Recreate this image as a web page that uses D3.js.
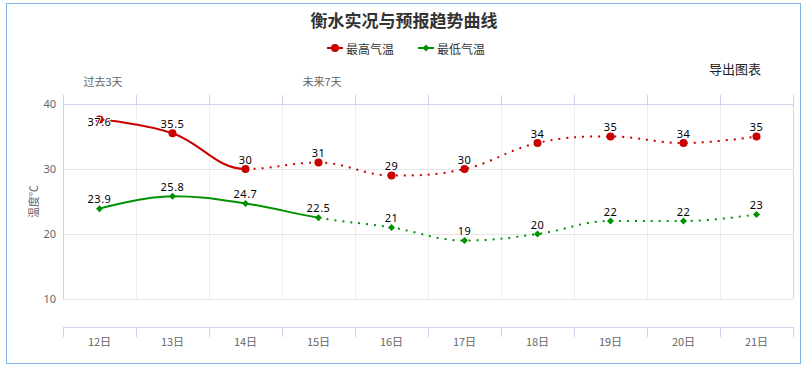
<!DOCTYPE html>
<html>
<head>
<meta charset="utf-8">
<script src="https://cdn.jsdelivr.net/npm/d3@7"></script>
<style>
html,body{margin:0;padding:0;background:#fff;}
svg{display:block;font-family:"Noto Sans CJK SC","Noto Sans",sans-serif;}
</style>
</head>
<body>
<svg id="chart" width="808" height="369"></svg>
<script>
const days = ["12日","13日","14日","15日","16日","17日","18日","19日","20日","21日"];
const highTemps = [37.6, 35.5, 30, 31, 29, 30, 34, 35, 34, 35];
const lowTemps  = [23.9, 25.8, 24.7, 22.5, 21, 19, 20, 22, 22, 23];
const highSolidUntil = 2;   // index where observed (solid) ends
const lowSolidUntil = 3;
const yTicks = [10, 20, 30, 40];
const seriesNames = ["最高气温", "最低气温"];
const titleText = "衡水实况与预报趋势曲线";

const svg = d3.select("#chart");
const W = 808, H = 369;
const plotL = 63, plotR = 793, plotT = 104, plotB = 299;
const red = "#c80000", green = "#009100";

// outer border
svg.append("rect").attr("x", 6.5).attr("y", 3.5).attr("width", 794).attr("height", 360)
  .attr("fill", "#fff").attr("stroke", "#7fb3e6").attr("stroke-width", 1);

const x = d3.scaleBand().domain(days).range([plotL, plotR]).padding(0);
const y = d3.scaleLinear().domain([10, 40]).range([plotB, plotT]);
const cx = d => x(d) + x.bandwidth() / 2;

// vertical grid
const bounds = days.map(d => x(d)).concat([plotR]);
svg.append("g").selectAll("line").data(bounds.slice(1, -1)).join("line")
  .attr("x1", d => d + 0.5).attr("x2", d => d + 0.5)
  .attr("y1", plotT).attr("y2", plotB)
  .attr("stroke", "#eeeeee");

// horizontal grid
svg.append("g").selectAll("line").data(yTicks.filter(t => t < 40)).join("line")
  .attr("x1", plotL).attr("x2", plotR)
  .attr("y1", d => Math.round(y(d)) + 0.5).attr("y2", d => Math.round(y(d)) + 0.5)
  .attr("stroke", "#e6e6e6");

// frame lines (left, right, top axis)
const axisCol = "#ccd6eb";
svg.append("line").attr("x1", plotL + 0.5).attr("x2", plotL + 0.5).attr("y1", 95).attr("y2", plotB).attr("stroke", axisCol);
svg.append("line").attr("x1", plotR + 0.5).attr("x2", plotR + 0.5).attr("y1", 95).attr("y2", plotB).attr("stroke", axisCol);
svg.append("line").attr("x1", plotL).attr("x2", plotR + 1).attr("y1", Math.round(y(40)) + 0.5).attr("y2", Math.round(y(40)) + 0.5).attr("stroke", axisCol);
svg.append("g").selectAll("line").data(bounds).join("line")
  .attr("x1", d => d + 0.5).attr("x2", d => d + 0.5)
  .attr("y1", 95).attr("y2", plotT).attr("stroke", axisCol);

// bottom axis
const axisY = 327;
const xAxis = d3.axisBottom(x).tickSize(0).tickPadding(0);
const gx = svg.append("g").attr("transform", `translate(0,${axisY})`).call(xAxis);
gx.select(".domain").remove();
gx.selectAll("text").attr("y", 15.5).attr("dy", "0.35em")
  .attr("fill", "#666").attr("font-size", "11px")
  .attr("font-family", "\"Noto Sans CJK SC\",sans-serif");
svg.append("line").attr("x1", plotL).attr("x2", plotR + 1).attr("y1", axisY + 0.5).attr("y2", axisY + 0.5).attr("stroke", axisCol);
svg.append("g").selectAll("line").data(bounds).join("line")
  .attr("x1", d => d + 0.5).attr("x2", d => d + 0.5)
  .attr("y1", axisY).attr("y2", axisY + 10).attr("stroke", axisCol);

// y axis labels
const yAxis = d3.axisLeft(y).tickValues(yTicks).tickSize(0).tickPadding(7);
const gy = svg.append("g").attr("transform", `translate(${plotL},0)`).call(yAxis);
gy.select(".domain").remove();
gy.selectAll("text").attr("fill", "#666").attr("font-size", "11px")
  .attr("font-family", "\"Noto Sans\",sans-serif");

// y title
svg.append("text").attr("transform", `translate(33,${(plotT + plotB) / 2}) rotate(-90)`)
  .attr("text-anchor", "middle").attr("dominant-baseline", "central")
  .attr("font-size", "11px").attr("fill", "#666").text("温度℃");

// Highcharts-like spline
function splinePath(pts, from, to) {
  const sm = 1.5, den = sm + 1;
  const ctrl = pts.map((p, i) => {
    if (i === 0 || i === pts.length - 1) return {l: [p[0], p[1]], r: [p[0], p[1]]};
    const [px, py] = p, [lx, ly] = pts[i - 1], [nx, ny] = pts[i + 1];
    let lcx = (sm * px + lx) / den, lcy = (sm * py + ly) / den;
    let rcx = (sm * px + nx) / den, rcy = (sm * py + ny) / den;
    let corr = 0;
    if (rcx !== lcx) corr = ((rcy - lcy) * (rcx - px)) / (rcx - lcx) + py - rcy;
    lcy += corr; rcy += corr;
    if (lcy > ly && lcy > py) { lcy = Math.max(ly, py); rcy = 2 * py - lcy; }
    else if (lcy < ly && lcy < py) { lcy = Math.min(ly, py); rcy = 2 * py - lcy; }
    if (rcy > ny && rcy > py) { rcy = Math.max(ny, py); lcy = 2 * py - rcy; }
    else if (rcy < ny && rcy < py) { rcy = Math.min(ny, py); lcy = 2 * py - rcy; }
    return {l: [lcx, lcy], r: [rcx, rcy]};
  });
  let d = `M${pts[from][0]},${pts[from][1]}`;
  for (let i = from + 1; i <= to; i++) {
    d += `C${ctrl[i - 1].r[0]},${ctrl[i - 1].r[1]} ${ctrl[i].l[0]},${ctrl[i].l[1]} ${pts[i][0]},${pts[i][1]}`;
  }
  return d;
}

function drawSeries(vals, solidUntil, color, marker) {
  const pts = vals.map((v, i) => [cx(days[i]), y(v)]);
  const g = svg.append("g");
  g.append("path").attr("d", splinePath(pts, 0, solidUntil))
    .attr("fill", "none").attr("stroke", color).attr("stroke-width", 2);
  g.append("path").attr("d", splinePath(pts, solidUntil, pts.length - 1))
    .attr("fill", "none").attr("stroke", color).attr("stroke-width", 2)
    .attr("stroke-dasharray", "2,6");
  if (marker === "circle") {
    g.selectAll("circle").data(pts).join("circle")
      .attr("cx", d => d[0]).attr("cy", d => d[1]).attr("r", 4).attr("fill", color);
  } else {
    g.selectAll("path.m").data(pts).join("path").attr("class", "m")
      .attr("d", d => `M${d[0]},${d[1] - 3.5}L${d[0] + 3.5},${d[1]}L${d[0]},${d[1] + 3.5}L${d[0] - 3.5},${d[1]}Z`)
      .attr("fill", color);
  }
  return pts;
}

const hp = drawSeries(highTemps, highSolidUntil, red, "circle");
const lp = drawSeries(lowTemps, lowSolidUntil, green, "diamond");

function labels(pts, vals) {
  svg.append("g").selectAll("text").data(pts).join("text")
    .attr("x", d => d[0]).attr("y", (d, i) => i === 0 && vals === highTemps ? d[1] + 2 : d[1] - 10)
    .attr("text-anchor", "middle").attr("dominant-baseline", "central")
    .attr("font-size", "11px").attr("fill", "#000")
    .attr("font-family", "\"Noto Sans\",sans-serif")
    .attr("stroke", "#fff").attr("stroke-width", 2).attr("paint-order", "stroke")
    .attr("letter-spacing", "0.5px")
    .text((d, i) => vals[i]);
}
labels(hp, highTemps);
labels(lp, lowTemps);

// title
svg.append("text").attr("x", 404).attr("y", 19).attr("text-anchor", "middle")
  .attr("dominant-baseline", "central").attr("font-size", "17px").attr("font-weight", "bold")
  .attr("fill", "#333").text(titleText);

// legend
const legendItems = [
  {name: seriesNames[0], color: red, x: 327, marker: "circle"},
  {name: seriesNames[1], color: green, x: 418, marker: "diamond"}
];
legendItems.forEach(it => {
  const g = svg.append("g");
  g.append("line").attr("x1", it.x).attr("x2", it.x + 16).attr("y1", 48).attr("y2", 48)
    .attr("stroke", it.color).attr("stroke-width", 2);
  if (it.marker === "circle") g.append("circle").attr("cx", it.x + 8).attr("cy", 48).attr("r", 4).attr("fill", it.color);
  else g.append("path").attr("d", `M${it.x + 8},${44.5}L${it.x + 11.5},48L${it.x + 8},51.5L${it.x + 4.5},48Z`).attr("fill", it.color);
  g.append("text").attr("x", it.x + 19).attr("y", 48).attr("dominant-baseline", "central")
    .attr("font-size", "12px").attr("fill", "#333").text(it.name);
});

// annotations
svg.append("text").attr("x", 103).attr("y", 81).attr("text-anchor", "middle").attr("dominant-baseline", "central")
  .attr("font-size", "11px").attr("fill", "#666").text("过去3天");
svg.append("text").attr("x", 322).attr("y", 81).attr("text-anchor", "middle").attr("dominant-baseline", "central")
  .attr("font-size", "11px").attr("fill", "#666").text("未来7天");
svg.append("text").attr("x", 735).attr("y", 68).attr("text-anchor", "middle").attr("dominant-baseline", "central")
  .attr("font-size", "13px").attr("fill", "#222").text("导出图表");
</script>
</body>
</html>
